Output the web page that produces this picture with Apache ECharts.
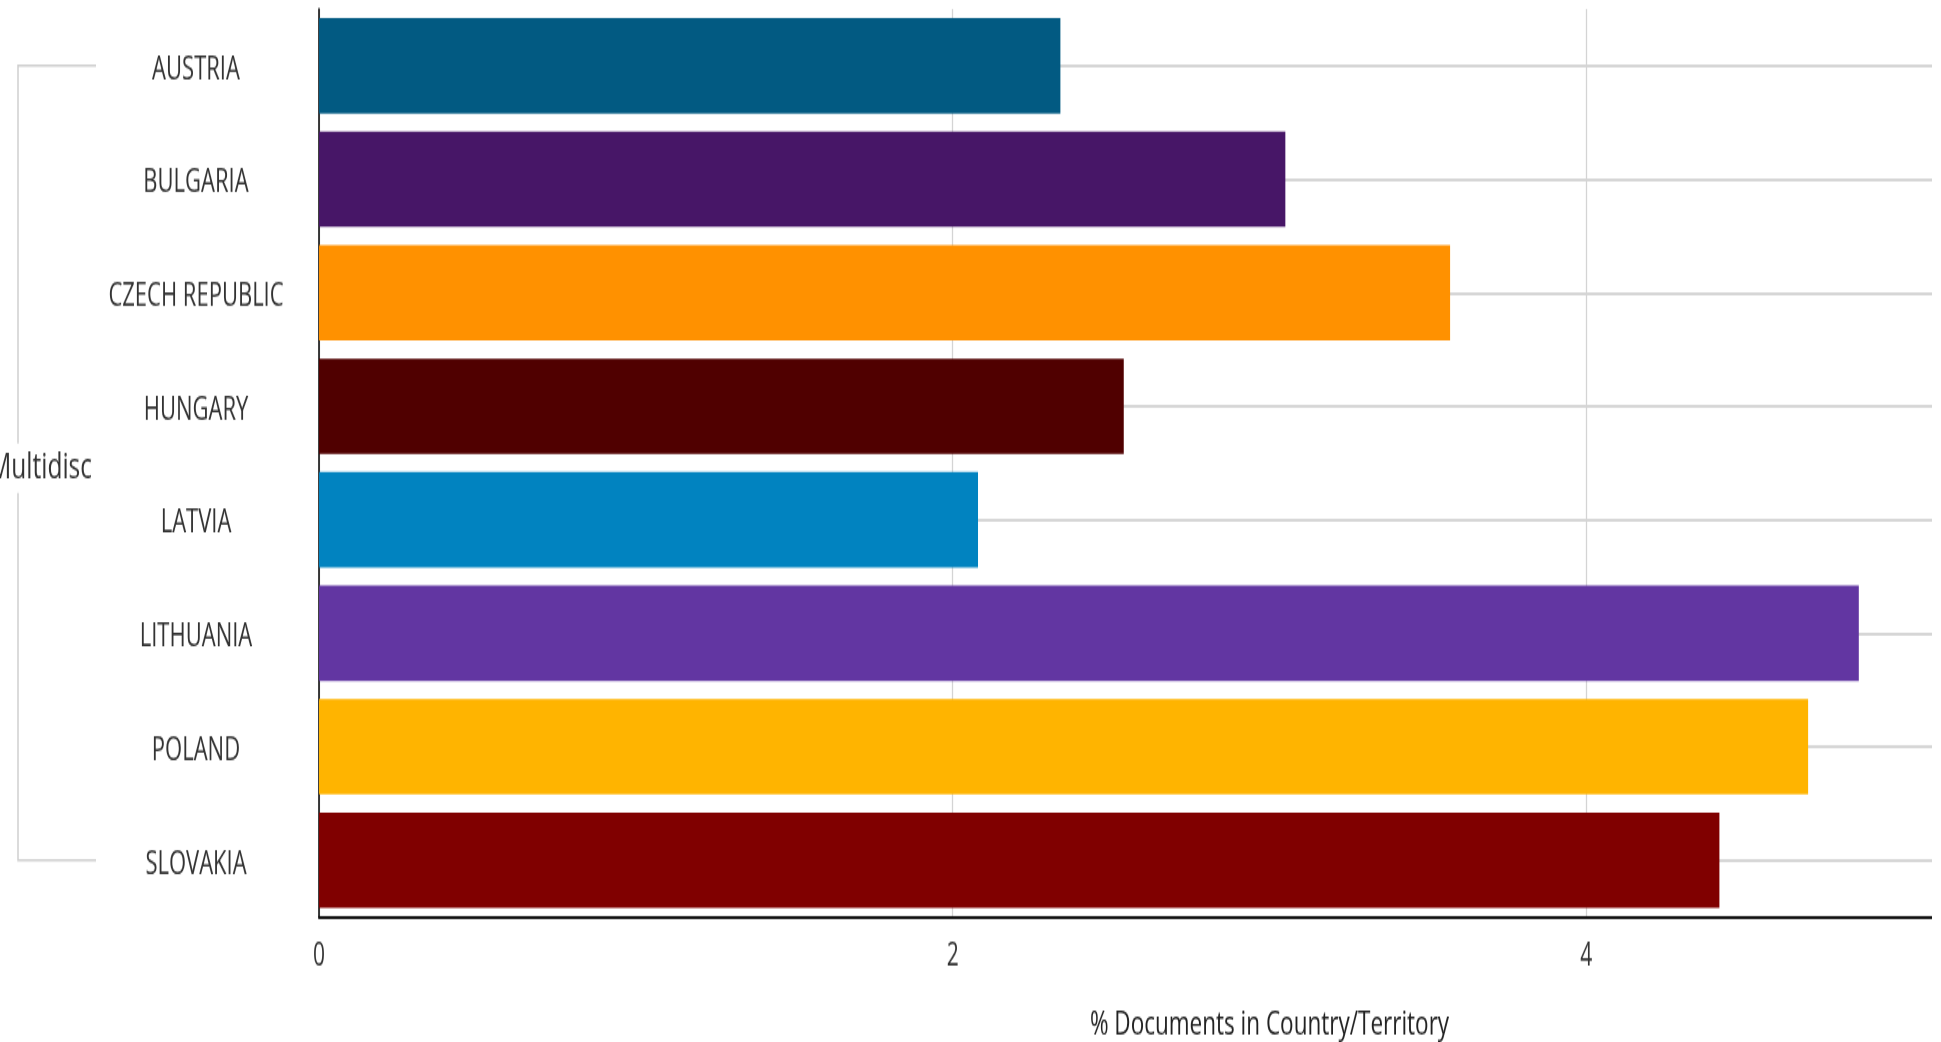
<!DOCTYPE html>
<html>
<head>
<meta charset="utf-8">
<script src="https://cdn.jsdelivr.net/npm/echarts@6/dist/echarts.min.js"></script>
<style>
  html, body { margin: 0; padding: 0; background: #ffffff; }
  /* the value axis runs on to 6, past the visible frame on the right */
  #frame { width: 1932px; height: 1042px; overflow: hidden; position: relative; }
  /* the chart is laid out at a compressed height and stretched vertically */
  #chart { width: 2229px; height: 695px; transform: scaleY(1.49928); transform-origin: 0 0; }
</style>
</head>
<body>
<div id="frame"><div id="chart"></div></div>
<script>
// Share of documents per country (Multidisciplinary field)
const countries = ['AUSTRIA', 'BULGARIA', 'CZECH REPUBLIC', 'HUNGARY', 'LATVIA', 'LITHUANIA', 'POLAND', 'SLOVAKIA'];
const shares = [2.34, 3.05, 3.57, 2.54, 2.08, 4.86, 4.70, 4.42];
const groupLabel = 'Multidisc';
const axisTitle = '% Documents in Country/Territory';
const xMin = 0, xMax = 6, xStep = 2;

const barColors = ['#025A82', '#471667', '#FF9100', '#500000', '#0183C0', '#6236A2', '#FFB400', '#800000'];
const FONT = '"Open Sans", "Noto Sans", sans-serif';

const chart = echarts.init(document.getElementById('chart'));

chart.setOption({
  animation: false,
  backgroundColor: '#ffffff',
  grid: { left: 319, right: 9, top: 6, bottom: 83.4, containLabel: false, outerBoundsMode: 'none' },
  xAxis: {
    type: 'value',
    min: xMin, max: xMax, interval: xStep,
    axisLine: { show: true, lineStyle: { color: '#111', width: 2 } },
    axisTick: { show: false },
    axisLabel: { fontFamily: FONT, fontSize: 21, color: '#333', margin: 15.8 },
    splitLine: { show: true, lineStyle: { color: '#d4d4d4', width: 1.3 } },
    name: axisTitle,
    nameLocation: 'middle',
    nameGap: 60.6,
    nameTextStyle: { fontFamily: FONT, fontSize: 22.5, color: '#222' }
  },
  yAxis: {
    type: 'category',
    data: countries,
    inverse: true,
    axisLine: { show: true, lineStyle: { color: '#000', width: 1.5 } },
    axisTick: { show: false },
    axisLabel: {
      align: 'center',
      margin: 123,
      formatter: (v) => '{c|' + v + '}',
      rich: { c: { fontFamily: FONT, fontSize: 22, color: '#333', padding: [5, 0, 0, 0] } }
    },
    splitLine: { show: true, alignWithLabel: true, lineStyle: { color: '#d6d6d6', width: 2 } }
  },
  series: [{
    type: 'bar',
    barCategoryGap: '16%',
    silent: true,
    data: shares.map((v, i) => ({ value: v, itemStyle: { color: barColors[i] } }))
  }]
});

// bracket grouping all countries under the field label
const yTop = chart.convertToPixel({ yAxisIndex: 0 }, countries[0]);
const yBot = chart.convertToPixel({ yAxisIndex: 0 }, countries[countries.length - 1]);
chart.setOption({
  graphic: [
    {
      type: 'polyline',
      silent: true,
      shape: { points: [[96, yTop], [18, yTop], [18, yBot], [96, yBot]] },
      style: { stroke: '#cfcfcf', lineWidth: 1.5, fill: null }
    },
    {
      type: 'text',
      silent: true,
      x: 92,
      y: (yTop + yBot) / 2 + 3.5,
      style: {
        text: groupLabel,
        fontFamily: FONT,
        fontSize: 24.5,
        fill: '#333',
        align: 'right',
        verticalAlign: 'middle',
        backgroundColor: '#ffffff',
        padding: [4, 0]
      }
    }
  ]
});
</script>
</body>
</html>
